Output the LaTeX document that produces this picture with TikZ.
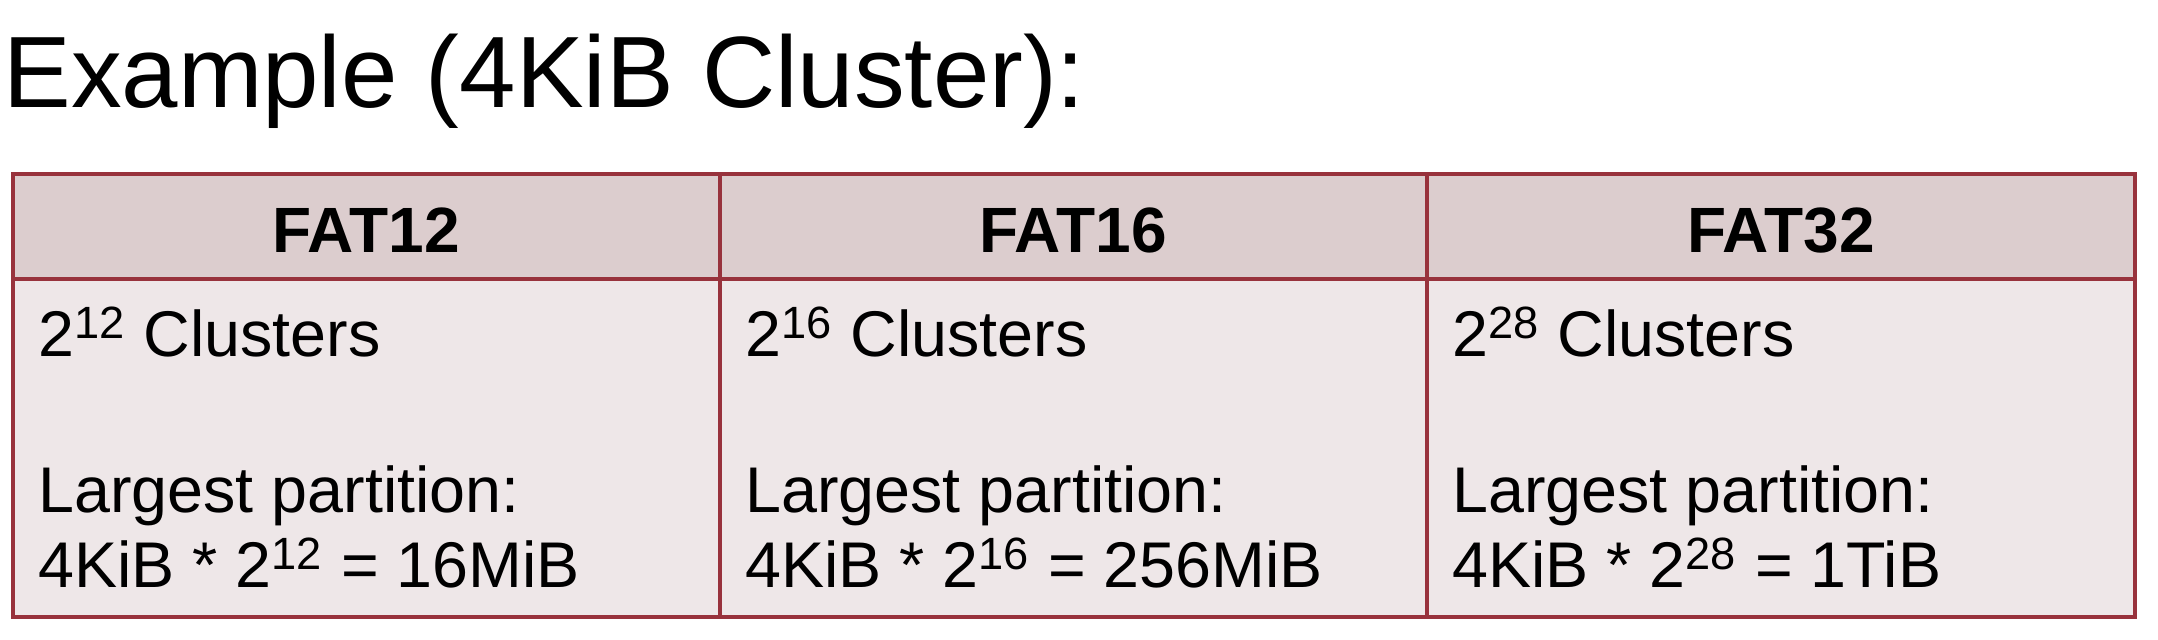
\documentclass[tikz,border=0pt]{standalone}
\usepackage{fontspec}
\setmainfont{Liberation Sans}
\definecolor{borderc}{RGB}{152,50,60}
\definecolor{headc}{RGB}{220,205,206}
\definecolor{bodyc}{RGB}{238,231,232}
\tikzset{
  titletext/.style={anchor=base west, inner sep=0pt, font=\fontsize{50.7pt}{60pt}\selectfont},
  headtext/.style={anchor=base, inner sep=0pt, font=\fontsize{32pt}{38pt}\selectfont\bfseries},
  celltext/.style={anchor=base west, inner sep=0pt, font=\fontsize{32.3pt}{38pt}\selectfont},
  gridline/.style={draw=borderc, line width=2pt}
}
\begin{document}
\begin{tikzpicture}[x=0.5pt,y=-0.5pt]
\useasboundingbox (0,0) rectangle (2158,640);
% fills
\fill[headc] (13,174) rectangle (2135,279);
\fill[bodyc] (13,279) rectangle (2135,617);
% grid
\draw[gridline] (13,174) rectangle (2135,617);
\draw[gridline] (13,279) -- (2135,279);
\draw[gridline] (720,174) -- (720,617);
\draw[gridline] (1427,174) -- (1427,617);
% title
\node[titletext] (title) at (3,108) {Example (4KiB Cluster):};
% headers
\node[headtext] (h1) at (366,253) {FAT12};
\node[headtext] (h2) at (1073,253) {FAT16};
\node[headtext] (h3) at (1781,253) {FAT32};
% column 1
\node[celltext] (c1a) at (38,357) {2\textsuperscript{12} Clusters};
\node[celltext] (c1b) at (38,513) {Largest partition:};
\node[celltext] (c1c) at (38,588) {4KiB * 2\textsuperscript{12} = 16MiB};
% column 2
\node[celltext] (c2a) at (745,357) {2\textsuperscript{16} Clusters};
\node[celltext] (c2b) at (745,513) {Largest partition:};
\node[celltext] (c2c) at (745,588) {4KiB * 2\textsuperscript{16} = 256MiB};
% column 3
\node[celltext] (c3a) at (1452,357) {2\textsuperscript{28} Clusters};
\node[celltext] (c3b) at (1452,513) {Largest partition:};
\node[celltext] (c3c) at (1452,588) {4KiB * 2\textsuperscript{28} = 1TiB};
\end{tikzpicture}
\end{document}
